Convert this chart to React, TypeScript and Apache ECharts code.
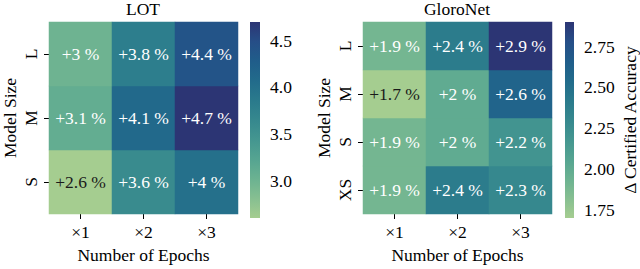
import React, { useEffect, useRef } from "react";
import * as echarts from "echarts";

// ---- data ----
const epochs = ["×1", "×2", "×3"];
const lotSizes = ["S", "M", "L"]; // bottom to top
const gloroSizes = ["XS", "S", "M", "L"]; // bottom to top

// rows listed bottom to top, columns ×1, ×2, ×3
const lotS = [2.6, 3.6, 4.0];
const lotM = [3.1, 4.1, 4.7];
const lotL = [3.0, 3.8, 4.4];

const gloroXS = [1.9, 2.4, 2.3];
const gloroS = [1.9, 2.0, 2.2];
const gloroM = [1.7, 2.0, 2.6];
const gloroL = [1.9, 2.4, 2.9];

const lotRange = [2.6, 4.7];
const gloroRange = [1.7, 2.9];
const lotTicks = [3.0, 3.5, 4.0, 4.5];
const gloroTicks = [1.75, 2.0, 2.25, 2.5, 2.75];

const crest = [
  "#a5cd90",
  "#86bf91",
  "#6bb291",
  "#55a491",
  "#449690",
  "#36888e",
  "#2a7a8c",
  "#226b8b",
  "#205d8a",
  "#264e87",
  "#2c3574",
];

const FONT = "'Liberation Serif', 'Times New Roman', serif";
const FS = 17.5;

function buildCells(rows: number[][], min: number, max: number) {
  const out: any[] = [];
  rows.forEach((row, yi) => {
    row.forEach((v, xi) => {
      const f = (v - min) / (max - min);
      out.push({
        value: [xi, yi, v],
        label: { color: f < 0.1 ? "#1a1a1a" : "#ffffff", fontFamily: FONT, fontSize: FS },
      });
    });
  });
  return out;
}

function gradientSeries(xi: number, yi: number, range: number[]) {
  const stops = crest.map((c, i) => ({ offset: i / (crest.length - 1), color: c }));
  return {
    type: "custom",
    xAxisIndex: xi,
    yAxisIndex: yi,
    silent: true,
    data: [[0, range[0], range[1]]],
    renderItem: (params: any, api: any) => {
      const lo = api.coord([0, api.value(1)]);
      const hi = api.coord([1, api.value(2)]);
      return {
        type: "rect",
        shape: { x: lo[0], y: hi[1], width: hi[0] - lo[0], height: lo[1] - hi[1] },
        style: { fill: new echarts.graphic.LinearGradient(0, 1, 0, 0, stops) },
      };
    },
  };
}

const catX = (gridIndex: number) => ({
  type: "category",
  gridIndex,
  data: epochs,
  axisLine: { show: false },
  axisTick: { show: true, length: 5, alignWithLabel: true, lineStyle: { color: "#000", width: 1 } },
  axisLabel: { fontSize: FS, color: "#000", margin: 9, fontFamily: FONT },
  splitLine: { show: false },
  name: "Number of Epochs",
  nameLocation: "middle",
  nameGap: 32,
  nameTextStyle: { fontSize: FS, color: "#000", fontFamily: FONT },
});

const catY = (gridIndex: number, data: string[]) => ({
  type: "category",
  gridIndex,
  data,
  axisLine: { show: false },
  axisTick: { show: true, length: 5, alignWithLabel: true, lineStyle: { color: "#000", width: 1 } },
  axisLabel: { fontSize: FS, color: "#000", margin: 9, rotate: 90, fontFamily: FONT },
  splitLine: { show: false },
  name: "Model Size",
  nameLocation: "middle",
  nameGap: 30,
  nameTextStyle: { fontSize: FS, color: "#000", fontFamily: FONT },
});

const barX = (gridIndex: number) => ({
  type: "value",
  gridIndex,
  min: 0,
  max: 1,
  show: false,
});

const barY = (gridIndex: number, range: number[], ticks: number[], digits: number, name?: string) => ({
  type: "value",
  gridIndex,
  position: "right",
  min: range[0],
  max: range[1],
  axisLine: { show: false },
  splitLine: { show: false },
  axisTick: { show: true, length: 5, customValues: ticks, lineStyle: { color: "#000", width: 1 } },
  axisLabel: {
    customValues: ticks,
    fontSize: FS,
    color: "#000",
    margin: 10,
    fontFamily: FONT,
    formatter: (v: number) => v.toFixed(digits),
  },
  name: name || "",
  nameLocation: "middle",
  nameGap: 47,
  nameTextStyle: { fontSize: FS, color: "#000", fontFamily: FONT },
});

export default function App() {
  const ref = useRef<HTMLDivElement>(null);
  useEffect(() => {
    if (!ref.current) return;
    const chart = echarts.init(ref.current, undefined, { renderer: "svg" });
    const labelCfg = {
      show: true,
      fontSize: FS,
      fontFamily: FONT,
      formatter: (p: any) => "+" + p.value[2] + " %",
    };
    chart.setOption({
      animation: false,
      backgroundColor: "#ffffff",
      textStyle: { fontFamily: FONT },
      title: [
        { text: "LOT", left: 143, top: 0, textAlign: "center", padding: 0, textStyle: { fontSize: FS, fontWeight: "normal", color: "#000", fontFamily: FONT } },
        { text: "GloroNet", left: 457, top: 0, textAlign: "center", padding: 0, textStyle: { fontSize: FS, fontWeight: "normal", color: "#000", fontFamily: FONT } },
      ],
      grid: [
        { left: 48, top: 22, width: 190, height: 196 },
        { left: 250, top: 22, width: 10, height: 196 },
        { left: 363, top: 22, width: 189, height: 196 },
        { left: 565, top: 22, width: 10, height: 196 },
      ],
      xAxis: [catX(0), barX(1), catX(2), barX(3)],
      yAxis: [
        catY(0, lotSizes),
        barY(1, lotRange, lotTicks, 1),
        catY(2, gloroSizes),
        barY(3, gloroRange, gloroTicks, 2, "Δ Certified Accuracy"),
      ],
      visualMap: [
        { type: "continuous", show: false, min: lotRange[0], max: lotRange[1], dimension: 2, seriesIndex: 0, inRange: { color: crest } },
        { type: "continuous", show: false, min: gloroRange[0], max: gloroRange[1], dimension: 2, seriesIndex: 1, inRange: { color: crest } },
      ],
      series: [
        {
          type: "heatmap",
          xAxisIndex: 0,
          yAxisIndex: 0,
          data: buildCells([lotS, lotM, lotL], lotRange[0], lotRange[1]),
          label: labelCfg,
          itemStyle: { borderWidth: 0 },
          emphasis: { disabled: true },
        },
        {
          type: "heatmap",
          xAxisIndex: 2,
          yAxisIndex: 2,
          data: buildCells([gloroXS, gloroS, gloroM, gloroL], gloroRange[0], gloroRange[1]),
          label: labelCfg,
          itemStyle: { borderWidth: 0 },
          emphasis: { disabled: true },
        },
        gradientSeries(1, 1, lotRange),
        gradientSeries(3, 3, gloroRange),
      ],
    });
    return () => chart.dispose();
  }, []);
  return (
    <div
      ref={ref}
      style={{ position: "fixed", left: 0, top: 0, width: 640, height: 269, background: "#fff" }}
    />
  );
}
